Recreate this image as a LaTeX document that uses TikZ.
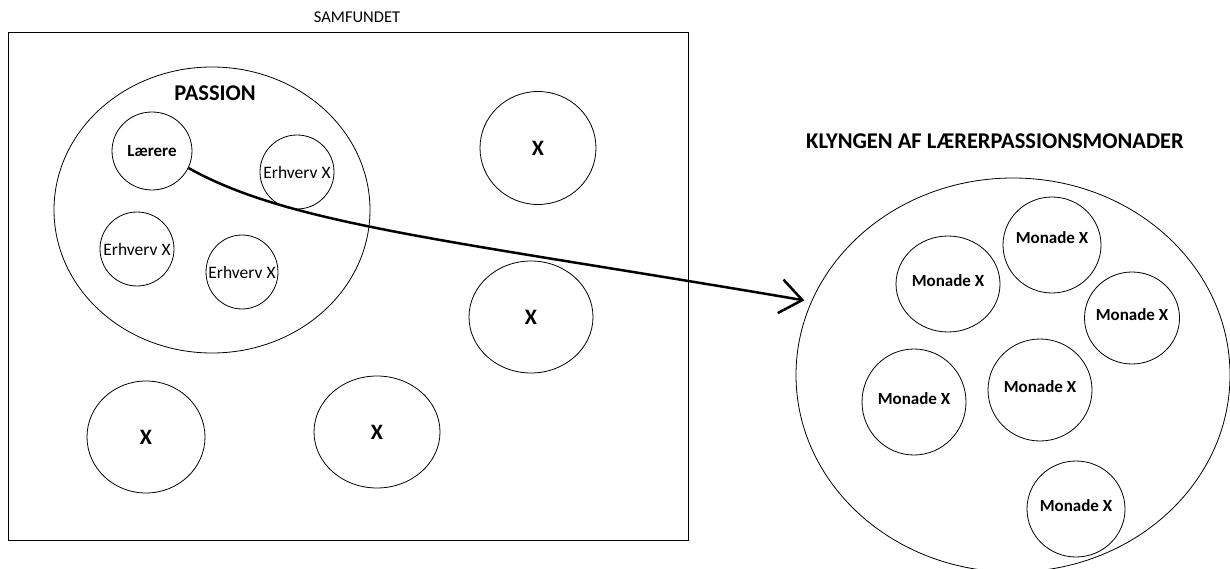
\documentclass[tikz,border=0pt]{standalone}
\usepackage{fontspec}
\setmainfont{Carlito}
\usepackage{tikz}
\usetikzlibrary{shapes.geometric, arrows.meta, positioning}

\begin{document}
\begin{tikzpicture}[
    x=1pt, y=-1pt,
    blob/.style={ellipse, draw, line width=0.8pt, inner sep=0pt, align=center},
    erhverv/.style={blob, minimum width=74pt, minimum height=74pt},
    etext/.style={font=\fontsize{17.5}{20}\selectfont},
    monade/.style={blob, minimum width=98pt, minimum height=96pt},
    mtext/.style={font=\bfseries\fontsize{17}{20}\selectfont, yshift=3pt},
    xblob/.style={blob, minimum width=120pt, minimum height=112pt, font=\bfseries\fontsize{22}{26}\selectfont},
    title/.style={font=\bfseries\fontsize{22.5}{27}\selectfont},
    arrow/.style={-{Straight Barb[length=22pt,width=34pt]}, line width=2.5pt, shorten >=7pt},
]
\useasboundingbox (0,0) rectangle (1230,569);
\clip (0,0) rectangle (1230,569);

\node[draw, line width=1pt, minimum width=680pt, minimum height=507pt, inner sep=0pt] (samfund) at (348,286.5) {};
\node[font=\fontsize{16.5}{20}\selectfont] (samfundtitle) at (357,17) {SAMFUNDET};

\node[blob, minimum width=316pt, minimum height=286pt] (passion) at (212,210) {};
\node[title] (passiontitle) at (215,93) {PASSION};
\node[blob, minimum width=80pt, minimum height=78pt, font=\bfseries\fontsize{17}{20}\selectfont] (laerere) at (152,151) {Lærere};
\node[erhverv, label={[etext]center:Erhverv X}] (erhvervA) at (297,172) {};
\node[erhverv, label={[etext]center:Erhverv X}] (erhvervB) at (137,249) {};
\node[erhverv, minimum width=72pt, label={[etext]center:Erhverv X}] (erhvervC) at (242,272) {};

\node[xblob, minimum width=116pt, minimum height=113pt] (xA) at (538,148) {X};
\node[xblob, minimum width=124pt] (xB) at (531,317) {X};
\node[xblob, minimum width=118pt] (xC) at (146,437) {X};
\node[xblob, minimum width=126pt] (xD) at (377,432) {X};

\node[title] (klyngetitle) at (995,141) {KLYNGEN AF LÆRERPASSIONSMONADER};
\node[blob, minimum width=434pt, minimum height=394pt] (klynge) at (1013,375) {};
\node[monade, label={[mtext, yshift=4pt]center:Monade X}] (monadeA) at (1052,245) {};
\node[monade, minimum width=104pt, label={[mtext]center:Monade X}] (monadeB) at (948,284) {};
\node[monade, minimum width=95pt, minimum height=92pt, label={[mtext]center:Monade X}] (monadeC) at (1132,318) {};
\node[monade, minimum width=104pt, minimum height=106pt, label={[mtext]center:Monade X}] (monadeD) at (914,402) {};
\node[monade, minimum width=104pt, minimum height=102pt, label={[mtext]center:Monade X}] (monadeE) at (1040,390) {};
\node[monade, label={[mtext]center:Monade X}] (monadeF) at (1076,509) {};

\draw[arrow] (laerere.-25) .. controls (290,225) and (450,240) .. (klynge.160);
\end{tikzpicture}
\end{document}
